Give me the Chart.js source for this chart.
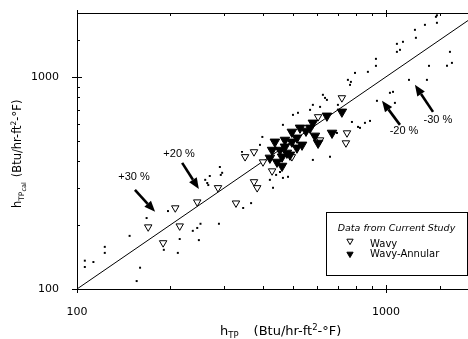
<!DOCTYPE html>
<html>
<head>
<meta charset="utf-8">
<script src="https://cdn.jsdelivr.net/npm/chart.js@4.4.0/dist/chart.umd.min.js"></script>
<style>
html,body{margin:0;padding:0;background:#fff;}
#c{display:block;}
</style>
</head>
<body>
<canvas id="c" width="468" height="339"></canvas>
<script>
// ---- data ----
const axisMin = 100;
const xAxisMax = 1843;
const yAxisMax = 2000;
const tickLabels = [100, 1000];

// Wavy (open triangles)
const wavyX = [170,208,245,215,190,286,327,374,383,350,374,400,428,496,603,720,748,742,612];
const wavyY = [196,241,257,198,165,300,254,320,300,420,443,397,360,420,648,796,544,488,504];

// Wavy-Annular (filled triangles)
const annularX = [437,471,421,444,461,478,720,644,580,527,551,589,603,669,515,471,515,461,489,535,496,454,496,568,428];
const annularY = [494,504,415,397,380,438,684,655,607,575,556,527,488,544,516,468,463,420,429,478,550,452,494,575,452];

// Other (literature) data, small dots
const litX = [106,113,106,123,123,148,160,156,168,197,215,191,212,237,245,251,248,269,292,264,288,345,366,431,482,441,398,391,342,464,290,295,260,266,421,454,464,519,568,612,625,644,694,580,580,500,765,753,776,824,855,888,659,770,794,874,928,928,1085,1110,1135,1085,1241,1250,1337,1451,1462,1462,1611,1635,1576,1378,1187,1357,1030,1054,935,1069,699,635,812];
const litY = [136,134,127,158,148,178,126,109,216,233,172,153,148,188,194,203,170,341,345,316,203,241,254,300,338,345,521,478,443,594,376,353,327,309,327,356,334,677,699,722,823,779,544,406,738,662,917,968,613,575,607,620,420,947,1044,1056,1127,1216,1431,1341,1463,1312,1666,1528,1759,1919,1798,1950,1312,1164,1127,1127,968,968,841,850,771,754,738,796,581];

// Perfect-agreement line
const refLine = [100, 2000];

// Deviation annotations (data coordinates)
const devLabels = ['+30 %', '+20 %', '-20 %', '-30 %'];
const devText   = [[153,338],[214,434],[1144,556],[1473,627]];
const devTail   = [[154,293],[219,393],[1110,594],[1420,684]];
const devTip    = [[179,231],[248,296],[971,771],[1241,917]];

// ---- build ----
const pts = (xs, ys) => xs.map((v, i) => ({x: v, y: ys[i]}));
Chart.defaults.font.family = '"DejaVu Sans", sans-serif';
Chart.defaults.color = '#000';

function drawPieces(ctx, pieces, x, y) {
  let cx = x;
  pieces.forEach(p => {
    if (p.gap) { cx += p.gap; return; }
    ctx.font = p.font;
    ctx.fillText(p.t, cx, y + (p.dy || 0));
    cx += ctx.measureText(p.t).width;
  });
}

function arrow(ctx, x0, y0, x1, y1) {
  const ang = Math.atan2(y1 - y0, x1 - x0);
  const hl = 11, hw = 4.5;
  const bx = x1 - hl * Math.cos(ang), by = y1 - hl * Math.sin(ang);
  ctx.lineWidth = 2.6;
  ctx.beginPath(); ctx.moveTo(x0, y0); ctx.lineTo(bx, by); ctx.stroke();
  ctx.beginPath();
  ctx.moveTo(x1, y1);
  ctx.lineTo(bx + hw * Math.sin(ang), by - hw * Math.cos(ang));
  ctx.lineTo(bx - hw * Math.sin(ang), by + hw * Math.cos(ang));
  ctx.closePath(); ctx.fill();
}

function tri(ctx, x, y, r, filled) {
  ctx.beginPath();
  for (let k = 0; k < 3; k++) {
    const a = Math.PI + k * 2 * Math.PI / 3;
    const px = x + Math.sin(a) * r, py = y - Math.cos(a) * r;
    if (k === 0) ctx.moveTo(px, py); else ctx.lineTo(px, py);
  }
  ctx.closePath();
  ctx.lineWidth = 1;
  if (filled) ctx.fill(); else { ctx.fillStyle = '#fff'; ctx.fill(); ctx.fillStyle = '#000'; }
  ctx.stroke();
}

const overlay = {
  id: 'overlay',
  afterDraw(chart) {
    const {ctx, chartArea: a, scales: {x, y}} = chart;
    ctx.save();
    ctx.strokeStyle = '#000';
    ctx.fillStyle = '#000';
    ctx.lineWidth = 1;
    // top frame line
    ctx.beginPath(); ctx.moveTo(a.left, a.top + 0.5); ctx.lineTo(a.right, a.top + 0.5); ctx.stroke();
    // tick marks
    const major = v => tickLabels.includes(v);
    ctx.beginPath();
    x.ticks.forEach(t => {
      if (t.value === x.max && !major(t.value)) return;
      const px = Math.round(x.getPixelForValue(t.value)) + 0.5;
      if (major(t.value)) {
        ctx.moveTo(px, a.bottom - 4); ctx.lineTo(px, a.bottom + 4);
        ctx.moveTo(px, a.top - 3); ctx.lineTo(px, a.top + 4);
      } else {
        ctx.moveTo(px, a.bottom); ctx.lineTo(px, a.bottom - 3);
        ctx.moveTo(px, a.top); ctx.lineTo(px, a.top + 3);
      }
    });
    y.ticks.forEach(t => {
      if (t.value === y.max && !major(t.value)) return;
      const py = Math.round(y.getPixelForValue(t.value)) + 0.5;
      if (major(t.value)) { ctx.moveTo(a.left - 5, py); ctx.lineTo(a.left + 5, py); }
      else { ctx.moveTo(a.left, py); ctx.lineTo(a.left + 3, py); }
    });
    ctx.stroke();

    // deviation arrows and labels
    ctx.font = '11px "Liberation Sans", Arial, sans-serif';
    ctx.textAlign = 'center';
    ctx.textBaseline = 'middle';
    devLabels.forEach((lab, i) => {
      ctx.fillText(lab, x.getPixelForValue(devText[i][0]), y.getPixelForValue(devText[i][1]));
      arrow(ctx,
        x.getPixelForValue(devTail[i][0]), y.getPixelForValue(devTail[i][1]),
        x.getPixelForValue(devTip[i][0]), y.getPixelForValue(devTip[i][1]));
    });

    // legend box
    const lx = a.right - 141.5, ly = a.bottom - 76.5;
    ctx.lineWidth = 1;
    ctx.strokeRect(lx, ly, 141, 63);
    ctx.font = 'italic 9.5px "DejaVu Sans", sans-serif';
    ctx.textAlign = 'center'; ctx.textBaseline = 'alphabetic';
    ctx.fillText('Data from Current Study', lx + 70, ly + 18);
    ctx.textAlign = 'left';
    ctx.font = '10px "DejaVu Sans", sans-serif';
    tri(ctx, lx + 23.5, ly + 28.5, 3.6, false);
    ctx.fillText('Wavy', lx + 43.5, ly + 34.5);
    tri(ctx, lx + 23.5, ly + 41.5, 3.6, true);
    ctx.fillText('Wavy-Annular', lx + 43.5, ly + 44.5);

    // x axis title
    ctx.textAlign = 'left'; ctx.textBaseline = 'alphabetic';
    drawPieces(ctx, [
      {t: 'h', font: '13px "DejaVu Sans"'},
      {t: 'TP', font: '8.5px "DejaVu Sans"', dy: 3},
      {gap: 15},
      {t: '(Btu/hr-ft', font: '13px "DejaVu Sans"'},
      {t: '2', font: '8.5px "DejaVu Sans"', dy: -5},
      {t: '-\u00B0F)', font: '13px "DejaVu Sans"'}
    ], 220, 335);

    // y axis title (rotated)
    ctx.save();
    ctx.translate(21, 208);
    ctx.rotate(-Math.PI / 2);
    drawPieces(ctx, [
      {t: 'h', font: '11.5px "DejaVu Sans"'},
      {t: 'TP', font: '7.5px "DejaVu Sans"', dy: 3},
      {t: 'cal', font: '6.5px "DejaVu Sans"', dy: 5},
      {gap: 5},
      {t: '(Btu/hr-ft', font: '11.5px "DejaVu Sans"'},
      {t: '2', font: '7.5px "DejaVu Sans"', dy: -5},
      {t: '-\u00B0F)', font: '11.5px "DejaVu Sans"'}
    ], 0, 0);
    ctx.restore();

    ctx.restore();
  }
};

const tickCb = v => tickLabels.includes(v) ? String(v) : '';

new Chart(document.getElementById('c'), {
  type: 'scatter',
  data: {
    datasets: [
      {
        label: 'Wavy-Annular',
        data: pts(annularX, annularY),
        pointStyle: 'triangle', pointRotation: 180,
        pointRadius: 5.5, pointBorderWidth: 1,
        backgroundColor: '#000', borderColor: '#000'
      },
      {
        label: 'Wavy',
        data: pts(wavyX, wavyY),
        pointStyle: 'triangle', pointRotation: 180,
        pointRadius: 4.3, pointBorderWidth: 1,
        backgroundColor: '#fff', borderColor: '#000'
      },
      {
        label: 'y = x',
        data: pts(refLine, refLine),
        showLine: true, pointRadius: 0,
        borderColor: '#000', borderWidth: 1
      },
      {
        label: 'Other data',
        data: pts(litX, litY),
        pointStyle: 'rect', pointRadius: 1.4, pointBorderWidth: 0,
        backgroundColor: '#000', borderColor: '#000'
      }
    ]
  },
  options: {
    responsive: false,
    animation: false,
    events: [],
    layout: {autoPadding: false, padding: {top: 13, left: 0, right: 0, bottom: 0}},
    plugins: {legend: {display: false}, tooltip: {enabled: false}, title: {display: false}},
    scales: {
      x: {
        type: 'logarithmic', position: 'bottom',
        min: axisMin, max: xAxisMax,
        grid: {display: false},
        border: {display: true, color: '#000', width: 1},
        ticks: {autoSkip: false, maxRotation: 0, padding: 9, callback: tickCb,
                font: {size: 11}, color: '#000'},
        afterFit: s => { s.height = 50; s.paddingRight = 0; s.paddingLeft = 0; }
      },
      y: {
        type: 'logarithmic', position: 'left',
        min: axisMin, max: yAxisMax,
        grid: {display: false},
        border: {display: true, color: '#000', width: 1},
        ticks: {autoSkip: false, padding: 10, callback: tickCb,
                font: {size: 11}, color: '#000'},
        afterFit: s => { s.width = 77; s.paddingTop = 0; s.paddingBottom = 0; }
      }
    }
  },
  plugins: [overlay]
});
</script>
</body>
</html>
